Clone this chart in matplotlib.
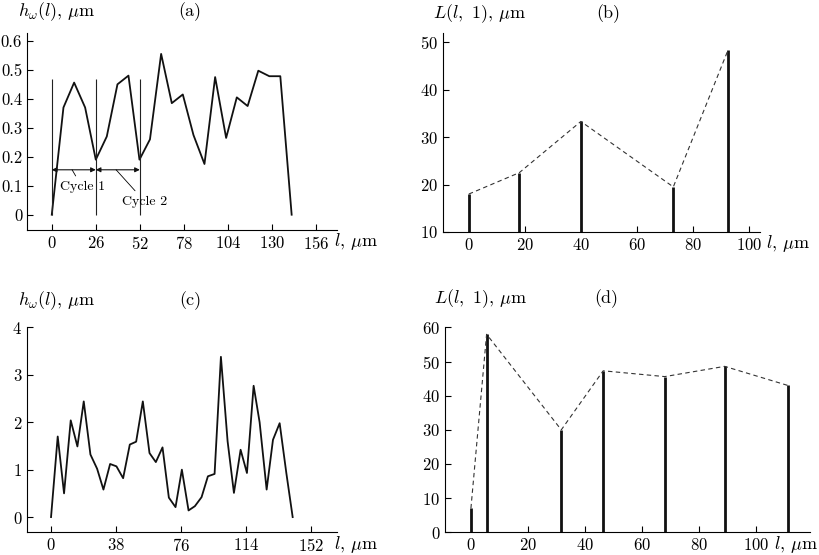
import matplotlib
matplotlib.use("Agg")
import matplotlib.pyplot as plt

plt.rcParams["font.family"] = "serif"
plt.rcParams["font.serif"] = ["cmr10"]
plt.rcParams["mathtext.fontset"] = "cm"
plt.rcParams["axes.formatter.use_mathtext"] = True
plt.rcParams["font.size"] = 12

# panel (a): surface profile
a_x = [0, 6.9, 13.2, 19.7, 26, 32.5, 38.8, 45.3, 51.8, 58, 64.6, 70.9, 77.4, 83.7,
       90.2, 96.5, 103, 109.3, 115.7, 122, 128.5, 135, 141.7]
a_h = [0, 0.37, 0.456, 0.37, 0.19, 0.27, 0.45, 0.48, 0.19, 0.26, 0.555, 0.385, 0.415,
       0.275, 0.175, 0.475, 0.265, 0.405, 0.375, 0.497, 0.478, 0.478, 0]
cycle_bounds = [0, 26, 52]

# panel (b): cycle lengths
b_x = [0, 18, 40, 73, 92.5]
b_L = [18, 22.5, 33.3, 19.5, 48.3]

# panel (c): surface profile
c_x = [0, 3.9, 7.6, 11.5, 15.4, 19.1, 23, 26.9, 30.6, 34.5, 38.2, 42.1, 46, 49.7,
       53.6, 57.5, 61.2, 65.1, 68.8, 72.7, 76.4, 80.3, 84, 87.9, 91.6, 95.5, 99.2,
       103.1, 106.8, 110.7, 114.4, 118.3, 121.8, 125.9, 129.6, 133.5, 137.4, 141.1]
c_h = [0, 1.70, 0.50, 2.04, 1.49, 2.44, 1.32, 1.02, 0.58, 1.12, 1.07, 0.82, 1.53, 1.59,
       2.44, 1.35, 1.16, 1.47, 0.41, 0.21, 1.0, 0.14, 0.23, 0.42, 0.86, 0.91, 3.38,
       1.6, 0.51, 1.42, 0.93, 2.77, 2.0, 0.58, 1.63, 1.98, 0.93, 0]

# panel (d): cycle lengths
d_x = [0, 5.5, 31.7, 46.4, 68, 89, 111.2]
d_L = [7, 58, 30, 47.3, 45.6, 48.6, 43]

fig = plt.figure(figsize=(8.2, 5.55), dpi=100)
ax_a = fig.add_axes([0.033, 0.586, 0.378, 0.355])
ax_b = fig.add_axes([0.540, 0.582, 0.387, 0.359])
ax_c = fig.add_axes([0.033, 0.041, 0.378, 0.369])
ax_d = fig.add_axes([0.543, 0.041, 0.445, 0.369])


def style(ax, ylabel, tag, tag_x, label_y, xlabel_x, xlabel_y):
    for s in ["top", "right"]:
        ax.spines[s].set_visible(False)
    ax.tick_params(direction="in", length=4, width=0.8, labelsize=12)
    ax.text(-0.03, label_y, ylabel, transform=ax.transAxes, ha="left", va="center", fontsize=13)
    ax.text(tag_x, label_y, tag, transform=ax.transAxes, ha="center", va="center", fontsize=13)
    ax.text(xlabel_x, xlabel_y, r"$l$, $\mu$m", transform=ax.transAxes, ha="left", va="center", fontsize=13)


# (a)
ax_a.plot(a_x, a_h, color="#111111", lw=1.3)
ax_a.vlines(cycle_bounds, 0, 0.47, color="#222222", lw=0.8)
for x0, x1 in zip(cycle_bounds[:-1], cycle_bounds[1:]):
    ax_a.annotate("", xy=(x0, 0.155), xytext=(x1, 0.155),
                  arrowprops=dict(arrowstyle="<|-|>", color="#111111", lw=0.8,
                                  shrinkA=0, shrinkB=0, mutation_scale=7))
ax_a.annotate("Cycle 1", xy=(12, 0.155), xytext=(18, 0.095), fontsize=10, ha="center", va="center",
              arrowprops=dict(arrowstyle="-", lw=0.6, shrinkA=2, shrinkB=0))
ax_a.annotate("Cycle 2", xy=(38, 0.155), xytext=(55, 0.045), fontsize=10, ha="center", va="center",
              arrowprops=dict(arrowstyle="-", lw=0.6, shrinkA=2, shrinkB=0))
ax_a.set_xlim(-14.6, 168.5)
ax_a.set_ylim(-0.052, 0.628)
ax_a.set_xticks([0, 26, 52, 78, 104, 130, 156])
ax_a.set_yticks([0, 0.1, 0.2, 0.3, 0.4, 0.5, 0.6])
ax_a.set_yticklabels(["0", "0.1", "0.2", "0.3", "0.4", "0.5", "0.6"])
style(ax_a, r"$h_\omega(l)$, $\mu$m", "(a)", 0.526, 1.105, 0.99, -0.06)

# (b)
ax_b.vlines(b_x, 10, b_L, color="#111111", lw=2)
ax_b.plot(b_x, b_L, color="#333333", lw=0.8, ls=(0, (4, 3)))
ax_b.set_xlim(-9.3, 104)
ax_b.set_ylim(10, 52)
ax_b.set_xticks([0, 20, 40, 60, 80, 100])
ax_b.set_yticks([10, 20, 30, 40, 50])
style(ax_b, r"$L(l,\ 1)$, $\mu$m", "(b)", 0.52, 1.095, 1.02, -0.06)

# (c)
ax_c.plot(c_x, c_h, color="#111111", lw=1.3)
ax_c.set_xlim(-14, 167)
ax_c.set_ylim(-0.32, 4.0)
ax_c.set_xticks([0, 38, 76, 114, 152])
ax_c.set_yticks([0, 1, 2, 3, 4])
style(ax_c, r"$h_\omega(l)$, $\mu$m", "(c)", 0.526, 1.13, 0.99, -0.06)

# (d)
ax_d.vlines(d_x, 0, d_L, color="#111111", lw=2)
ax_d.plot(d_x, d_L, color="#333333", lw=0.8, ls=(0, (4, 3)))
ax_d.set_xlim(-9, 119)
ax_d.set_ylim(0, 60)
ax_d.set_xticks([0, 20, 40, 60, 80, 100])
ax_d.set_yticks([0, 10, 20, 30, 40, 50, 60])
style(ax_d, r"$L(l,\ 1)$, $\mu$m", "(d)", 0.44, 1.14, 0.9, -0.06)

fig.savefig("out.png", dpi=100)
